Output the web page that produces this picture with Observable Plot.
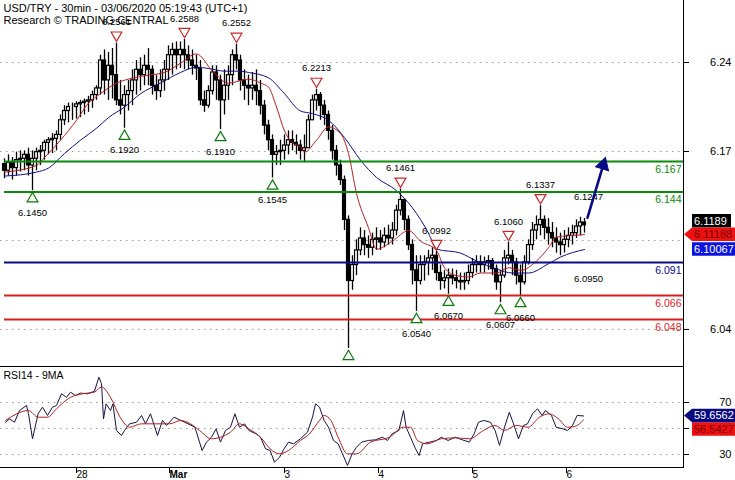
<!DOCTYPE html>
<html><head><meta charset="utf-8">
<script src="https://cdn.jsdelivr.net/npm/d3@7"></script>
<script src="https://cdn.jsdelivr.net/npm/@observablehq/plot@0.6"></script>
<style>
body{margin:0;background:#fff;}
#chart{width:735px;height:480px;position:relative;overflow:hidden;}
#chart svg{display:block;}
</style></head><body><div id="chart"></div>
<script>
// ---------- DATA (30-min candles, bar index 0..145) ----------
const firstOpen = 6.165;
const highs = [
6.169,6.172,6.170,6.174,6.175,6.175,6.177,6.175,6.177,6.179,
6.183,6.185,6.188,6.190,6.202,6.209,6.211,6.211,6.212,6.213,
6.214,6.216,6.220,6.224,6.247,6.251,6.249,6.252,6.2561,6.228,
6.224,6.228,6.236,6.243,6.245,6.247,6.252,6.239,6.232,6.236,
6.243,6.254,6.256,6.257,6.257,6.2588,6.254,6.251,6.247,6.243,
6.220,6.224,6.239,6.239,6.232,6.236,6.239,6.251,6.2552,6.247,
6.236,6.232,6.234,6.236,6.228,6.213,6.198,6.187,6.179,6.183,
6.187,6.190,6.190,6.187,6.183,6.187,6.202,6.217,6.2213,6.219,
6.213,6.205,6.194,6.179,6.168,6.156,6.126,6.096,6.108,6.117,
6.115,6.111,6.113,6.117,6.115,6.117,6.119,6.121,6.134,6.1461,
6.138,6.126,6.108,6.096,6.096,6.096,6.100,6.102,6.0992,6.089,
6.085,6.086,6.086,6.085,6.083,6.083,6.089,6.094,6.096,6.096,
6.095,6.096,6.094,6.089,6.085,6.100,6.1060,6.100,6.094,6.089,
6.096,6.108,6.121,6.126,6.1337,6.126,6.124,6.121,6.117,6.113,
6.115,6.117,6.119,6.123,6.125,6.124];
const lows = [
6.154,6.156,6.153,6.156,6.159,6.160,6.156,6.1450,6.160,6.164,
6.168,6.172,6.173,6.175,6.183,6.194,6.196,6.198,6.199,6.200,
6.202,6.204,6.207,6.213,6.217,6.217,6.213,6.214,6.209,6.202,
6.1920,6.205,6.209,6.217,6.220,6.224,6.224,6.217,6.213,6.215,
6.220,6.228,6.232,6.236,6.237,6.236,6.236,6.232,6.228,6.209,
6.204,6.207,6.217,6.213,6.1910,6.202,6.213,6.224,6.236,6.220,
6.213,6.209,6.213,6.209,6.202,6.187,6.175,6.1545,6.164,6.164,
6.168,6.172,6.175,6.172,6.168,6.166,6.179,6.198,6.205,6.198,
6.194,6.183,6.168,6.156,6.149,6.115,6.0262,6.070,6.081,6.096,
6.096,6.094,6.096,6.100,6.100,6.102,6.104,6.104,6.111,6.126,
6.115,6.100,6.074,6.0540,6.074,6.077,6.081,6.085,6.077,6.070,
6.071,6.0670,6.074,6.071,6.070,6.070,6.074,6.079,6.083,6.083,
6.083,6.085,6.081,6.070,6.0607,6.079,6.089,6.081,6.074,6.0660,
6.074,6.089,6.100,6.108,6.111,6.108,6.104,6.102,6.098,6.096,
6.098,6.102,6.104,6.109,6.111,6.113];
const closes = [
6.160,6.166,6.162,6.168,6.169,6.172,6.164,6.169,6.174,6.175,
6.181,6.183,6.184,6.187,6.198,6.205,6.208,6.208,6.210,6.211,
6.212,6.213,6.217,6.222,6.243,6.228,6.239,6.232,6.213,6.209,
6.217,6.220,6.228,6.236,6.232,6.239,6.236,6.224,6.220,6.228,
6.236,6.247,6.251,6.247,6.251,6.247,6.243,6.239,6.237,6.213,
6.209,6.220,6.234,6.228,6.213,6.224,6.232,6.247,6.243,6.228,
6.224,6.222,6.224,6.220,6.209,6.194,6.183,6.172,6.174,6.175,
6.179,6.183,6.181,6.179,6.175,6.177,6.198,6.213,6.217,6.209,
6.202,6.190,6.175,6.164,6.153,6.123,6.077,6.089,6.100,6.109,
6.104,6.102,6.108,6.109,6.106,6.111,6.109,6.115,6.130,6.138,
6.123,6.104,6.085,6.077,6.089,6.091,6.094,6.096,6.083,6.077,
6.079,6.081,6.079,6.077,6.076,6.077,6.083,6.089,6.091,6.089,
6.091,6.092,6.086,6.076,6.081,6.094,6.096,6.091,6.081,6.076,
6.091,6.104,6.115,6.119,6.123,6.117,6.113,6.109,6.106,6.104,
6.108,6.111,6.113,6.118,6.121,6.1189];

// moving averages: [bar index, price]
const redMA = [[0,6.159],[8,6.164],[10,6.170],[14,6.183],[18,6.198],[21,6.211],[24,6.218],[28,6.226],[31,6.229],[36,6.232],[40,6.234],[44,6.241],[48,6.248],[52,6.235],[56,6.226],[61,6.229],[64,6.226],[66,6.223],[68,6.208],[70,6.190],[72,6.181],[74,6.178],[75,6.174],[78,6.183],[81,6.193],[84,6.188],[86,6.173],[88,6.143],[91,6.117],[93,6.101],[97,6.107],[101,6.115],[104,6.107],[108,6.100],[110,6.087],[113,6.081],[116,6.080],[119,6.083],[123,6.083],[126,6.087],[129,6.085],[133,6.092],[136,6.102],[138,6.110],[141,6.111],[145,6.11188]];
const blueMA = [[0,6.156],[8,6.159],[11,6.162],[15,6.173],[19,6.183],[23,6.192],[26,6.200],[30,6.208],[34,6.218],[39,6.226],[44,6.234],[48,6.238],[51,6.237],[55,6.235],[59,6.235],[61,6.234],[66,6.230],[70,6.218],[74,6.205],[77,6.203],[81,6.198],[85,6.185],[89,6.168],[93,6.155],[98,6.145],[102,6.132],[106,6.113],[108,6.101],[114,6.098],[118,6.092],[123,6.086],[127,6.083],[131,6.083],[136,6.090],[139,6.095],[145,6.10067]];

// support / resistance levels
const levelVals = [6.167, 6.144, 6.091, 6.066, 6.048];
const levelColors = ["#0b8a0b", "#0b8a0b", "#0a0a86", "#dd1c1c", "#dd1c1c"];

// pivot markers
const resistIdx = [28, 45, 58, 78, 99, 108, 126, 134];
const resistVal = [6.2561, 6.2588, 6.2552, 6.2213, 6.1461, 6.0992, 6.1060, 6.1337];
const supportIdx = [7, 30, 54, 67, 86, 103, 111, 124, 129];
const supportVal = [6.1450, 6.1920, 6.1910, 6.1545, 6.0262, 6.0540, 6.0670, 6.0607, 6.0660];
const supportShown = [true, true, true, true, false, true, true, true, true];
const targetIdx = [146, 146];
const targetVal = [6.1247, 6.0950];
const arrowFrom = [145.75, 6.1247];
const arrowTo = [150.25, 6.170];

// axes
const priceGrid = [6.2415, 6.1745, 6.1075, 6.0405];
const priceTicks = [6.2415, 6.1745, 6.0405];
const dayIdx = [17.25, 40.5, 69.25, 92.75, 116.25, 139.75];
const dayLabels = ["28", "Mar", "3", "4", "5", "6"];
const rsiTicks = [70, 50, 30];
const rsiTickLabels = ["70", "", "30"];

// RSI14 and its 9MA: [bar index, value]
const rsi = [[0.25,54.8],[1.25,57.4],[2.5,54.8],[3.75,63.8],[5.5,67.7],[6,61.3],[7,42.1],[8.4,61.3],[9.5,66.4],[10.75,60],[12,66.4],[13,67.7],[14.25,76.7],[15.5,74],[16.5,77.9],[17.75,75.4],[19,77.2],[20.75,76.7],[22.5,78.7],[23.6,89.5],[24.25,84.4],[24.75,57.4],[25.4,69],[26.5,63.8],[27.1,69],[28,48.5],[29.25,44.6],[30,48.5],[31.25,53.6],[33,54.8],[34.25,60],[35.25,53.6],[36.5,61.3],[38.25,44.6],[39.5,56.2],[40.5,52.3],[42.4,58.7],[44.1,56.2],[45.9,53.6],[47.6,51],[49.4,33.1],[50.5,39.5],[51.75,43.3],[52.9,49.7],[54,39.5],[55.25,48.5],[56.5,51],[57.6,61.3],[58.75,51],[60,53.6],[61.1,48.5],[62.9,45.9],[64,43.3],[65.25,34.4],[66.4,33.1],[67.5,24.1],[68.75,27.9],[69.9,34.4],[71,39.5],[72.25,38.2],[74,42.1],[75.75,47.2],[77,58.7],[77.75,69],[78.75,66.4],[79.9,56.2],[81,51],[82.25,40.8],[83.4,38.2],[84.5,30.5],[85.75,21.5],[86.9,30.5],[88,35.6],[89.25,39.5],[91,40.8],[92.75,41.3],[94.5,43.3],[95.75,40.8],[96.9,45.9],[98.6,48.5],[99.75,63.8],[100.4,51],[101.5,43.3],[102.75,34.4],[103.65,29.2],[104.5,38.2],[106.25,39.5],[108,40.8],[109.2,43.3],[110.9,40.8],[112.7,43.3],[114.45,41.3],[116.2,39.5],[117.4,45.9],[118.5,54.8],[119.75,56.2],[121.5,54.8],[122.65,48.5],[123.75,37],[125,51],[126.2,62.5],[127.25,53.6],[128.5,42.1],[129.7,52.3],[130.75,53.6],[132,61.3],[133.25,65.2],[134.4,60],[135.25,63.8],[136.75,60],[137.9,51],[139.65,49.7],[140.75,48.5],[142,52.3],[143.15,60],[144.75,59.6562]];
const rsiMA = [[0.25,56.2],[6,63.8],[8.4,58.7],[10.75,58.7],[13,65.2],[16.5,74],[19.5,76.7],[22.5,78],[24.25,82],[26.5,74],[28.9,58.7],[31.25,51],[34.25,53.6],[37.75,53.6],[41.25,53.6],[44.1,56.2],[46.5,53.6],[48.75,48.5],[51.75,42.1],[54,43.3],[56.5,47.2],[58.75,53.6],[61.1,49.7],[64,43.3],[66.4,34.4],[68.75,30.5],[71,33.1],[74,40.8],[76.25,45.9],[78.75,56.2],[79.9,60],[81.6,56.2],[83.4,43.3],[85.75,30.5],[88,30.5],[91.5,39.5],[96.25,43.3],[99.75,51],[101.5,51],[103.25,40.8],[105.65,38.2],[109.2,42.1],[112.7,42.8],[116.2,42.1],[119.75,48.5],[122.65,52.3],[125,48.5],[127.9,52.3],[130.9,51],[133.75,58.7],[136.1,61.3],[138.5,57.4],[140.75,51],[142.5,51.5],[144.75,56.5427]];

// ---------- BUILD ----------
const FONT = '"Liberation Sans", Arial, sans-serif';
const W = 735, MR = 52;
const xDomain = [-1, 169.75];
const candles = closes.map((c, i) => ({i, open: i === 0 ? firstOpen : closes[i - 1], high: highs[i], low: lows[i], close: c}));
const levels = levelVals.map((v, k) => ({v, c: levelColors[k]}));
const resist = resistIdx.map((i, k) => ({i, v: resistVal[k]}));
const support = supportIdx.map((i, k) => ({i, v: supportVal[k], shown: supportShown[k]}));
const targets = targetIdx.map((i, k) => ({i, v: targetVal[k]}));
const lastClose = closes[closes.length - 1];
const lastRed = redMA[redMA.length - 1][1];
const lastBlue = blueMA[blueMA.length - 1][1];
const arrowSeg = [{a: arrowFrom, b: arrowTo}];

const main = Plot.plot({
  width: W, height: 366, marginLeft: 0, marginRight: MR, marginTop: 0, marginBottom: 0,
  style: {fontFamily: FONT, fontSize: "11px", background: "white", color: "black"},
  x: {domain: xDomain, axis: null},
  y: {domain: [6.0126, 6.2882], axis: null},
  color: {type: "identity"},
  marks: [
    Plot.gridY(priceGrid, {stroke: "#9a9a9a", strokeOpacity: 1, strokeDasharray: "1.5,4.5"}),
    Plot.ruleX(candles, {x: "i", y1: d => Math.min(d.low, d.open, d.close), y2: d => Math.max(d.high, d.open, d.close), stroke: "black", strokeWidth: 1.3}),
    Plot.rect(candles, {x1: d => d.i - 0.37, x2: d => d.i + 0.37, y1: "open", y2: "close", fill: d => d.close >= d.open ? "white" : "black", stroke: "black", strokeWidth: 1.2}),
    Plot.line(blueMA, {x: d => d[0], y: d => d[1], stroke: "#101088", strokeWidth: 1, curve: "monotone-x"}),
    Plot.line(redMA, {x: d => d[0], y: d => d[1], stroke: "#b52020", strokeWidth: 1, curve: "monotone-x"}),
    Plot.ruleY(levels, {y: "v", x1: 0, x2: xDomain[1], stroke: "c", strokeWidth: 2}),
    Plot.text(levels, {y: "v", text: d => d.v.toFixed(3), frameAnchor: "right", textAnchor: "end", dx: -2, dy: 8, fill: "c", fontSize: 10.5}),
    Plot.dot(resist, {x: "i", y: "v", symbol: "triangle", rotate: 180, r: 4, dy: -8, stroke: "#c82828", fill: "white", strokeWidth: 1.2}),
    Plot.text(resist, {x: "i", y: "v", text: d => d.v.toFixed(4), dy: -21, fontSize: 9.5, fill: "black"}),
    Plot.dot(support, {x: "i", y: "v", symbol: "triangle", r: 4, dy: 8, stroke: "#0b7a0b", fill: "white", strokeWidth: 1.2}),
    Plot.text(support.filter(d => d.shown), {x: "i", y: "v", text: d => d.v.toFixed(4), dy: 22, fontSize: 9.5, fill: "black"}),
    Plot.text(targets.slice(0, 1), {x: "i", y: "v", text: d => d.v.toFixed(4), dy: -21, fontSize: 9.5, fill: "black"}),
    Plot.text(targets.slice(1), {x: "i", y: "v", text: d => d.v.toFixed(4), dy: 22, fontSize: 9.5, fill: "black"}),
    Plot.arrow(arrowSeg, {x1: d => d.a[0], y1: d => d.a[1], x2: d => d.b[0], y2: d => d.b[1], stroke: "#0a0a86", strokeWidth: 2.6, headLength: 0, insetEnd: 9}),
    Plot.dot(arrowSeg, {x: d => d.b[0], y: d => d.b[1], symbol: "triangle", r: 5, rotate: 17, dx: -2.3, dy: 7.5, fill: "#0a0a86", stroke: "#0a0a86", strokeWidth: 1}),
    Plot.text(["USD/TRY - 30min - 03/06/2020 05:19:43 (UTC+1)"], {frameAnchor: "top-left", dx: 3, dy: 8, lineAnchor: "middle", textAnchor: "start", fontSize: 11}),
    Plot.text(["Research \u00A9 TRADING CENTRAL"], {frameAnchor: "top-left", dx: 3, dy: 20, lineAnchor: "middle", textAnchor: "start", fontSize: 11}),
    Plot.frame({anchor: "right", stroke: "black"}),
    Plot.axisY(priceTicks, {anchor: "right", tickSize: 5, tickPadding: 43, textAnchor: "end", tickFormat: d3.format(".2f"), fontSize: 11})
  ]
});

const rsiPlot = Plot.plot({
  width: W, height: 114, marginLeft: 0, marginRight: MR, marginTop: 0, marginBottom: 13,
  style: {fontFamily: FONT, fontSize: "11px", background: "white", color: "black"},
  x: {domain: xDomain, axis: null},
  y: {domain: [20, 97.69], axis: null},
  marks: [
    Plot.gridY(rsiTicks, {stroke: "#9a9a9a", strokeOpacity: 1, strokeDasharray: "1.5,4.5"}),
    Plot.line(rsi, {x: d => d[0], y: d => d[1], stroke: "#141444", strokeWidth: 1}),
    Plot.line(rsiMA, {x: d => d[0], y: d => d[1], stroke: "#b52020", strokeWidth: 1, curve: "monotone-x"}),
    Plot.text(["RSI14 - 9MA"], {frameAnchor: "top-left", dx: 3, dy: 9, lineAnchor: "middle", textAnchor: "start", fontSize: 10.5}),
    Plot.frame({anchor: "top", stroke: "black"}),
    Plot.frame({anchor: "bottom", stroke: "black"}),
    Plot.frame({anchor: "right", stroke: "black"}),
    Plot.axisY(rsiTicks, {anchor: "right", tickSize: 5, tickPadding: 43, textAnchor: "end", tickFormat: d => rsiTickLabels[rsiTicks.indexOf(d)], fontSize: 11}),
    Plot.axisX(dayIdx, {anchor: "bottom", tickSize: 6, tickPadding: 1.5, lineAnchor: "middle", textAnchor: "start", dx: 3, tickFormat: d => { const l = dayLabels[dayIdx.indexOf(d)]; return l === "Mar" ? "" : l; }, fontSize: 10}),
    Plot.text(dayIdx.filter((d, k) => dayLabels[k] === "Mar"), {x: d => d, text: () => "Mar", frameAnchor: "bottom", dy: 7.5, dx: 3, lineAnchor: "middle", textAnchor: "start", fontWeight: "bold", fontSize: 10})
  ]
});

// price tags on the right scale, positioned through the plots' own scales
function addTag(svg, cy, label, bg, fg, pointer, right) {
  const h = 13.5, tip = 684, left = 692, top = cy - h / 2;
  const g = d3.select(svg).append("g");
  const d = pointer
    ? `M${tip},${cy}L${left},${top}H${right}V${top + h}H${left}Z`
    : `M${left},${top}H${right}V${top + h}H${left}Z`;
  g.append("path").attr("d", d).attr("fill", bg);
  g.append("text").attr("x", left + 2).attr("y", cy).attr("dy", "0.36em")
    .attr("text-anchor", "start")
    .attr("fill", fg).attr("font-family", FONT).attr("font-size", 11).text(label);
}
const ym = main.scale("y");
const yRed = ym.apply(lastRed);
const yBlk = Math.min(ym.apply(lastClose), yRed - 13.5);
const yBlu = Math.max(ym.apply(lastBlue), yRed + 13.5);
addTag(main, yBlk, lastClose.toFixed(4), "#000000", "#ffffff", false, 731);
addTag(main, yBlu, lastBlue.toFixed(5), "#0a14e0", "#ffffff", false, 735);
addTag(main, yRed, lastRed.toFixed(5), "#ee1111", "#7a0000", true, 735);

const yr = rsiPlot.scale("y");
const lastRsi = rsi[rsi.length - 1][1];
const lastRsiMA = rsiMA[rsiMA.length - 1][1];
const yR1 = yr.apply(lastRsi);
const yR2 = Math.max(yr.apply(lastRsiMA), yR1 + 13.5);
addTag(rsiPlot, yR2, lastRsiMA.toFixed(4), "#ee1111", "#7a0000", false, 735);
addTag(rsiPlot, yR1, lastRsi.toFixed(4), "#0a0a80", "#ffffff", true, 735);

const root = document.getElementById("chart");
root.appendChild(main);
root.appendChild(rsiPlot);
</script>
</body></html>
